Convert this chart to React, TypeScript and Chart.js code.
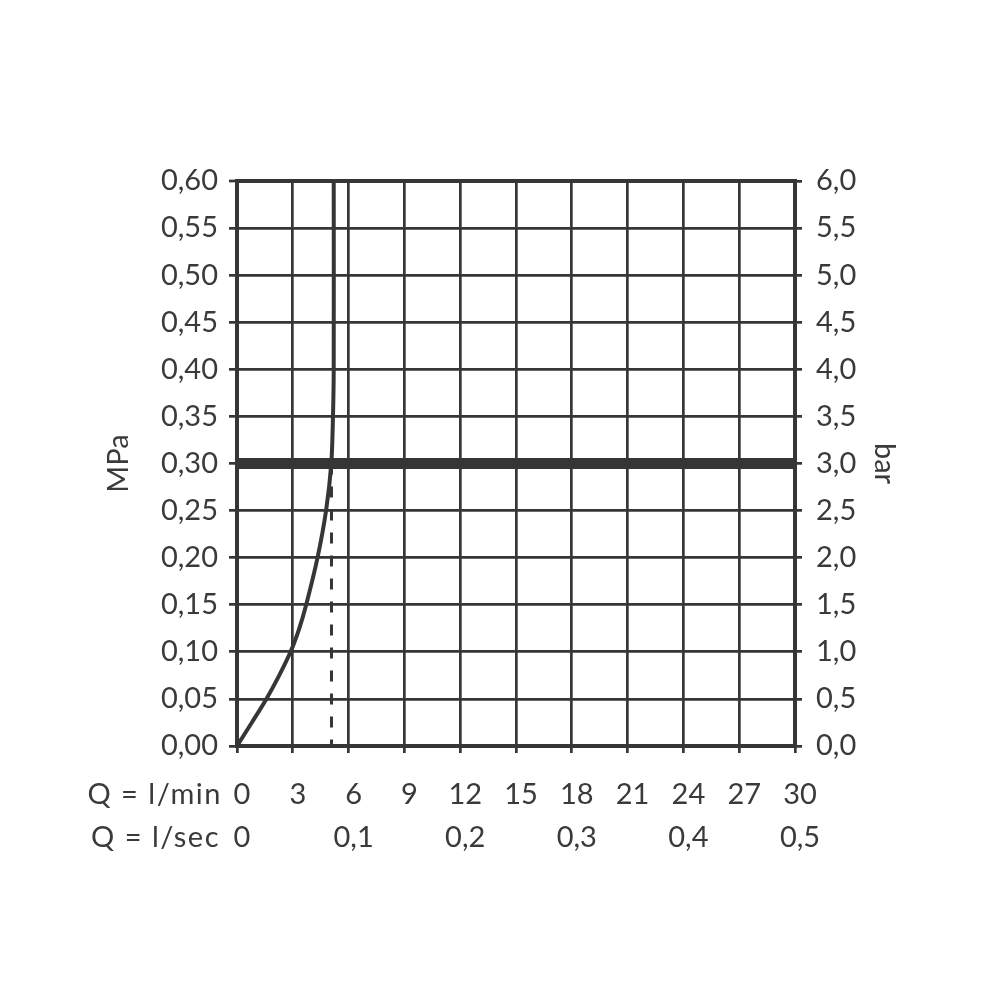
import { useEffect, useRef } from "react"
import { Chart, registerables } from "chart.js"

Chart.register(...registerables)

// curve: flow (l/min) vs pressure (MPa)
const flowLpm = [0, 0.8, 1.58, 2.27, 2.88, 3.35, 3.72, 4.33, 4.79, 5.07, 5.16, 5.2, 5.2]
const pressureMpa = [0, 0.025, 0.05, 0.075, 0.1, 0.125, 0.15, 0.2, 0.25, 0.3, 0.35, 0.4, 0.6]

// working pressure line and the flow marker under it
const workingPressure = [0.3, 0.3]
const workingRange = [0, 30]
const markerFlow = [5.08, 5.08]
const markerPressure = [0.3, 0]

const INK = "#363636"
const TEXT = "#3a3a3a"
const FONT = "Lato, 'Open Sans', sans-serif"
const SIZE = 29
const LINE_H = SIZE * 1.2

const rowTitles = {
  id: "rowTitles",
  afterDraw(chart: Chart) {
    const { ctx, chartArea } = chart
    const xs = chart.scales.x
    const x2 = chart.scales.x2
    ctx.save()
    ctx.font = `${SIZE}px ${FONT}`
    ctx.fillStyle = TEXT
    ctx.textAlign = "right"
    ctx.textBaseline = "middle"
    ;(ctx as any).letterSpacing = "1.5px"
    ctx.fillText("Q = l/min", chartArea.left - 15, xs.top + 7 + 24 + LINE_H / 2)
    ctx.fillText("Q = l/sec", chartArea.left - 17, x2.top + 4 + LINE_H / 2)
    ctx.restore()
  },
}

export default function App() {
  const canvasRef = useRef<HTMLCanvasElement>(null)
  const chartRef = useRef<Chart | null>(null)

  useEffect(() => {
    if (!canvasRef.current) return
    if (chartRef.current) chartRef.current.destroy()

    const font = { family: FONT, size: SIZE }

    chartRef.current = new Chart(canvasRef.current, {
      type: "line",
      data: {
        datasets: [
          {
            data: workingRange.map((x, i) => ({ x, y: workingPressure[i] })),
            borderColor: INK,
            borderWidth: 11,
            pointRadius: 0,
          },
          {
            data: flowLpm.map((x, i) => ({ x, y: pressureMpa[i] })),
            borderColor: INK,
            borderWidth: 4,
            pointRadius: 0,
            tension: 0.3,
          },
          {
            data: markerFlow.map((x, i) => ({ x, y: markerPressure[i] })),
            borderColor: INK,
            borderWidth: 3,
            borderDash: [11, 12],
            pointRadius: 0,
          },
        ],
      },
      options: {
        responsive: false,
        animation: false,
        layout: { padding: { top: 181, left: 0, right: 0, bottom: 0 } },
        plugins: { legend: { display: false }, tooltip: { enabled: false } },
        scales: {
          x: {
            type: "linear",
            position: "bottom",
            weight: 0,
            min: 0,
            max: 30,
            afterFit: (s: any) => {
              s.height = 70
            },
            grid: { color: INK, lineWidth: 2.7, tickLength: 7, tickWidth: 2.7 },
            border: { display: true, color: INK, width: 4 },
            ticks: {
              stepSize: 3,
              autoSkip: false,
              maxRotation: 0,
              padding: 24,
              labelOffset: 5,
              color: TEXT,
              font,
              callback: (v: any) => String(v),
            },
          },
          x2: {
            type: "linear",
            position: "bottom",
            weight: 1,
            min: 0,
            max: 0.5,
            afterFit: (s: any) => {
              s.height = 1000 - 816
            },
            grid: { display: false, drawTicks: false },
            border: { display: false },
            ticks: {
              stepSize: 0.1,
              autoSkip: false,
              maxRotation: 0,
              padding: 4,
              labelOffset: 5,
              color: TEXT,
              font,
              callback: (v: any) => (Number(v) === 0 ? "0" : Number(v).toFixed(1).replace(".", ",")),
            },
          },
          y: {
            type: "linear",
            position: "left",
            min: 0,
            max: 0.6,
            afterFit: (s: any) => {
              s.width = 237
            },
            grid: {
              color: INK,
              lineWidth: (c: any) => (c.tick && c.tick.value > 0.599 ? 4 : 2.7),
              tickLength: 8,
              tickWidth: 2.7,
            },
            border: { display: true, color: INK, width: 4 },
            ticks: {
              stepSize: 0.05,
              autoSkip: false,
              padding: 11,
              color: TEXT,
              font,
              callback: (v: any) => Number(v).toFixed(2).replace(".", ","),
            },
            title: {
              display: true,
              text: "MPa",
              color: TEXT,
              font,
              padding: { top: 101, bottom: 0 },
            },
          },
          y2: {
            type: "linear",
            position: "right",
            min: 0,
            max: 6,
            afterFit: (s: any) => {
              s.width = 1000 - 795
            },
            grid: {
              drawOnChartArea: false,
              drawTicks: true,
              color: INK,
              lineWidth: 2.7,
              tickLength: 7,
            },
            border: { display: true, color: INK, width: 4 },
            ticks: {
              stepSize: 0.5,
              autoSkip: false,
              padding: 14,
              color: TEXT,
              font,
              callback: (v: any) => Number(v).toFixed(1).replace(".", ","),
            },
            title: {
              display: true,
              text: "bar",
              color: TEXT,
              font,
              padding: { top: 98, bottom: 0 },
            },
          },
        },
      },
      plugins: [rowTitles],
    })

    return () => {
      if (chartRef.current) {
        chartRef.current.destroy()
        chartRef.current = null
      }
    }
  }, [])

  return (
    <div style={{ position: "fixed", left: 0, top: 0, width: 1000, height: 1000, background: "#fff" }}>
      <canvas ref={canvasRef} width={1000} height={1000} />
    </div>
  )
}
